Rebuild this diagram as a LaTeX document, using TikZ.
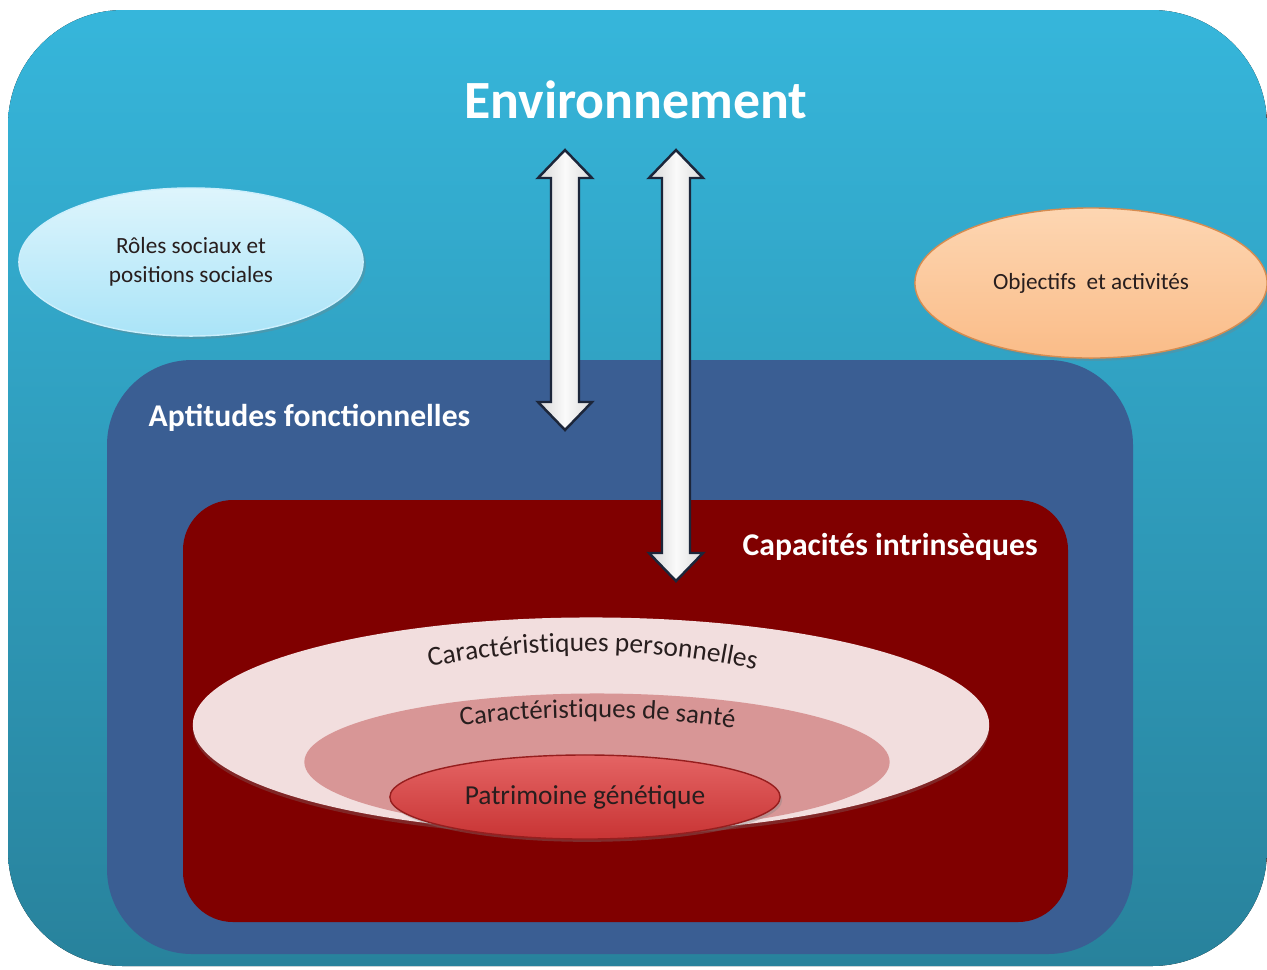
\documentclass[tikz,border=0pt]{standalone}
\usepackage{fontspec}
\setmainfont{Carlito}
\usetikzlibrary{shapes.geometric,shadows,decorations.text}
\definecolor{envtop}{RGB}{54,182,219}
\definecolor{envbot}{RGB}{40,130,156}
\definecolor{aptblue}{RGB}{58,94,147}
\definecolor{capred}{RGB}{128,0,0}
\definecolor{roletop}{RGB}{222,245,252}
\definecolor{rolebot}{RGB}{170,228,248}
\definecolor{objtop}{RGB}{253,214,178}
\definecolor{objbot}{RGB}{250,188,136}
\definecolor{objline}{RGB}{214,140,80}
\definecolor{perscol}{RGB}{242,222,222}
\definecolor{santecol}{RGB}{216,150,150}
\definecolor{gentop}{RGB}{228,100,100}
\definecolor{genbot}{RGB}{200,52,52}
\definecolor{genline}{RGB}{150,30,30}
\definecolor{arrowline}{RGB}{28,38,58}
\definecolor{labeldark}{RGB}{40,30,30}
\begin{document}
\begin{tikzpicture}[x=0.01cm,y=-0.01cm,
  boldlabel/.style={text=white,inner sep=0pt,font=\bfseries\fontsize{9}{11}\selectfont},
  bubble/.style={ellipse,inner sep=0pt,text=labeldark,align=center,font=\fontsize{6.6}{8.3}\selectfont,
    drop shadow={shadow xshift=0.8pt,shadow yshift=-0.8pt,opacity=0.3}},
  layer/.style={ellipse,inner sep=0pt},
  dblarrow/.style={draw=arrowline,line width=0.7pt,line join=miter,left color=black!16,right color=black!14,middle color=black!2}]
\useasboundingbox (0,0) rectangle (1267,969);
% nested boxes
\fill[top color=envtop,bottom color=envbot,rounded corners=1.15cm] (8,10) rectangle (1267,966);
\fill[aptblue,rounded corners=0.85cm] (107,360) rectangle (1133,954);
\fill[capred,rounded corners=0.5cm] (183,500) rectangle (1068,922);

\node[font=\bfseries\fontsize{15.3}{18}\selectfont,text=white,inner sep=0pt,anchor=base] (envtitle) at (636,118) {Environnement};
\node[boldlabel,anchor=base west] (aptlabel) at (148,426) {Aptitudes fonctionnelles};
\node[boldlabel,anchor=base west] (caplabel) at (742,555) {Capacités intrinsèques};

\node[bubble,top color=roletop,bottom color=rolebot,draw=white!80!cyan,minimum width=3.44cm,minimum height=1.48cm] (roles) at (191,262) {Rôles sociaux et\\positions sociales};
\node[bubble,top color=objtop,bottom color=objbot,draw=objline,minimum width=3.52cm,minimum height=1.5cm] (objectifs) at (1091,283) {Objectifs\ \ et activités};

% double arrows
\draw[dblarrow] (565,150) -- (592,178) -- (579,178) -- (579,402) -- (592,402) -- (565,430) -- (538,402) -- (551,402) -- (551,178) -- (538,178) -- cycle;
\draw[dblarrow] (676,150) -- (703,178) -- (690,178) -- (690,553) -- (703,553) -- (676,581) -- (649,553) -- (662,553) -- (662,178) -- (649,178) -- cycle;

% intrinsic layers
\node[layer,fill=perscol,minimum width=7.96cm,minimum height=2.15cm,
  drop shadow={shadow xshift=0pt,shadow yshift=-1pt,opacity=0.3}] (perso) at (591,725) {};
\node[layer,fill=santecol,minimum width=5.85cm,minimum height=1.37cm] (sante) at (597,762) {};
\node[layer,top color=gentop,bottom color=genbot,draw=genline,line width=0.4pt,minimum width=3.9cm,minimum height=0.84cm,
  text=labeldark,font=\fontsize{7.8}{9}\selectfont,
  drop shadow={shadow xshift=0.6pt,shadow yshift=-0.8pt,opacity=0.35}] (genetique) at (585,797) {Patrimoine génétique};

\path[decorate,decoration={text along path,text align=center,text color=labeldark,
  text={|\fontsize{7.8}{9}\selectfont|Caractéristiques personnelles}}]
  (405,672) .. controls (525,644) and (660,644) .. (780,676);
\path[decorate,decoration={text along path,text align=center,text color=labeldark,
  text={|\fontsize{7.6}{9}\selectfont|Caractéristiques de santé}}]
  (430,730) .. controls (540,713) and (655,713) .. (765,733);
\end{tikzpicture}
\end{document}
